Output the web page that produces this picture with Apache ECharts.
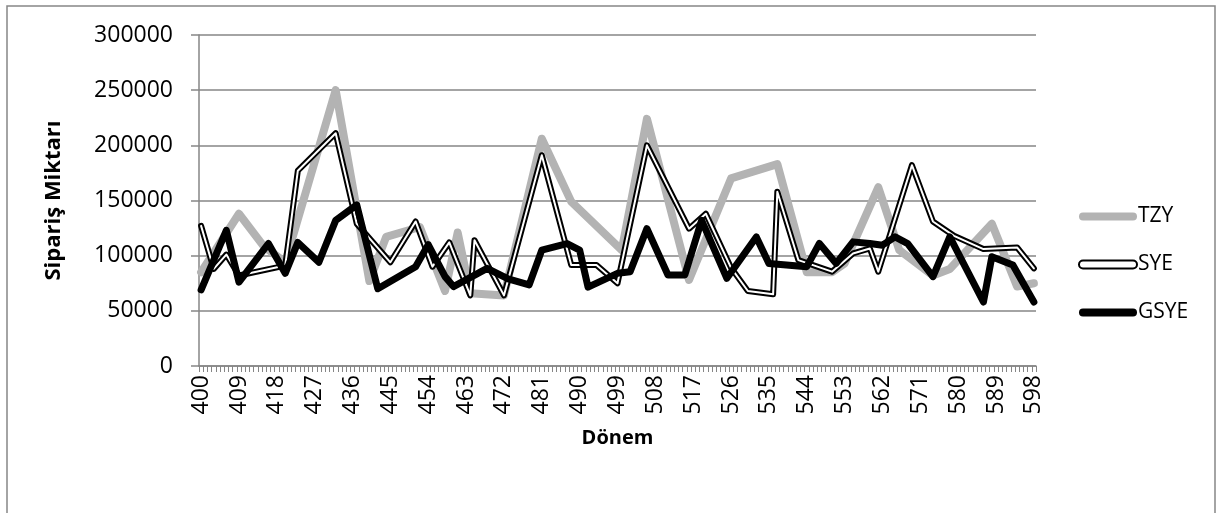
<!DOCTYPE html>
<html>
<head>
<meta charset="utf-8">
<script src="https://cdn.jsdelivr.net/npm/echarts@6/dist/echarts.min.js"></script>
<style>
  html, body { margin: 0; padding: 0; background: #ffffff; }
  #chart { width: 1219px; height: 513px; }
</style>
</head>
<body>
<div id="chart"></div>
<script>
// Periods shown on the category axis (one category per period)
const firstPeriod = 400;
const lastPeriod = 598;
const periods = [];
for (let p = firstPeriod; p <= lastPeriod; p++) periods.push(String(p));

// TZY series: turning points (period, order quantity)
const tzyPeriods = [400, 409, 415, 420, 432, 440, 444, 452, 458, 461, 464, 472, 481, 488, 500, 506, 516, 526, 537, 544, 550, 553, 561, 566, 574, 578, 588, 594, 598];
const tzyValues  = [85000, 138000, 108000, 94000, 250000, 77000, 117000, 126000, 68000, 121000, 66000, 64000, 206000, 149000, 105000, 224000, 78000, 170000, 183000, 85000, 85000, 93000, 162000, 105000, 82000, 88000, 129000, 72000, 75000];

// SYE series
const syePeriods = [400, 403, 406, 409, 420, 423, 432, 437, 445, 451, 455, 459, 464, 465, 472, 481, 488, 494, 499, 506, 516, 520, 526, 530, 536, 537, 542, 550, 555, 559, 561, 569, 574, 579, 586, 594, 598];
const syeValues  = [127000, 88000, 101000, 82000, 91000, 177000, 211000, 129000, 94000, 131000, 90000, 112000, 64000, 114000, 64000, 191000, 91500, 91500, 75000, 200000, 124500, 138000, 89000, 68000, 65000, 158000, 96000, 85500, 102000, 106500, 85500, 182000, 131000, 118000, 106000, 107500, 88500];

// GSYE series
const gsyePeriods = [400, 406, 409, 416, 420, 423, 428, 432, 437, 442, 451, 454, 458, 460, 468, 473, 478, 481, 487, 490, 492, 499, 502, 506, 511, 515, 519, 525, 532, 535, 544, 547, 551, 555, 559, 562, 565, 568, 574, 578, 586, 588, 593, 598];
const gsyeValues  = [69000, 123000, 76000, 111000, 84000, 112000, 94000, 132000, 146000, 70000, 90000, 110000, 81000, 72000, 88500, 79000, 73500, 105000, 111000, 105000, 71500, 84000, 85500, 124500, 82500, 82500, 132000, 79500, 117000, 93000, 90000, 111000, 93000, 112500, 111000, 109500, 117000, 111000, 81000, 117000, 58000, 99000, 91500, 58000];

// Y axis scale
const yMin = 0;
const yMax = 300000;
const yStep = 50000;

function pairs(ps, vs) {
  return ps.map((p, i) => [String(p), vs[i]]);
}

const FONT = '"Open Sans", "Noto Sans", sans-serif';
const AXIS_GRAY = '#868686';
const CAPSULE = 'path://M4,0L54,0A4,4,0,0,1,54,8L4,8A4,4,0,0,1,4,0Z';

const chart = echarts.init(document.getElementById('chart'), null, { renderer: 'canvas' });

chart.setOption({
  animation: false,
  backgroundColor: '#ffffff',
  graphic: [{
    type: 'rect',
    silent: true,
    shape: { x: 7, y: 6, width: 1208, height: 530 },
    style: { fill: 'none', stroke: AXIS_GRAY, lineWidth: 1.5 }
  }],
  grid: {
    left: 199, right: 183, top: 35, bottom: 147,
    containLabel: false,
    outerBoundsMode: 'none'
  },
  legend: {
    orient: 'vertical',
    left: 1073,
    top: 201,
    itemWidth: 58,
    itemHeight: 8,
    itemGap: 27,
    selectedMode: false,
    textStyle: { fontFamily: FONT, fontSize: 21, color: '#000', lineHeight: 20, padding: [0, 0, 0, -4] },
    data: [
      { name: 'TZY', icon: CAPSULE, itemStyle: { color: '#b3b3b3', borderWidth: 0 } },
      { name: 'SYE', icon: CAPSULE, itemStyle: { color: '#ffffff', borderColor: '#000000', borderWidth: 2 } },
      { name: 'GSYE', icon: CAPSULE, itemStyle: { color: '#000000', borderWidth: 0 } }
    ]
  },
  xAxis: {
    type: 'category',
    data: periods,
    boundaryGap: true,
    name: 'Dönem',
    nameLocation: 'middle',
    nameGap: 62,
    nameTextStyle: { fontFamily: FONT, fontSize: 20, fontWeight: 'bold', color: '#000' },
    axisLine: { show: true, lineStyle: { color: AXIS_GRAY, width: 1.5 } },
    axisTick: { show: true, interval: 0, length: 6, lineStyle: { color: AXIS_GRAY, width: 1 } },
    axisLabel: {
      interval: 8,
      rotate: 90,
      margin: 9,
      fontFamily: FONT,
      fontSize: 23,
      color: '#000'
    },
    splitLine: { show: false }
  },
  yAxis: {
    type: 'value',
    min: yMin,
    max: yMax,
    interval: yStep,
    name: 'Sipariş Miktarı',
    nameLocation: 'middle',
    nameRotate: 90,
    nameGap: 134,
    nameTextStyle: { fontFamily: FONT, fontSize: 22, fontWeight: 'bold', color: '#000' },
    axisLine: { show: true, lineStyle: { color: AXIS_GRAY, width: 1.5 } },
    axisTick: { show: true, length: 8, lineStyle: { color: AXIS_GRAY, width: 1.5 } },
    axisLabel: {
      margin: 26,
      fontFamily: FONT,
      fontSize: 23,
      color: '#000',
      formatter: (v) => String(v)
    },
    splitLine: { show: true, lineStyle: { color: AXIS_GRAY, width: 1.5 } }
  },
  series: [
    {
      name: 'TZY',
      type: 'line',
      data: pairs(tzyPeriods, tzyValues),
      symbol: 'none',
      itemStyle: { color: '#b3b3b3' },
      lineStyle: { color: '#b3b3b3', width: 8, join: 'round', cap: 'round' }
    },
    {
      // SYE outer stroke
      name: 'SYE',
      type: 'line',
      data: pairs(syePeriods, syeValues),
      symbol: 'none',
      itemStyle: { color: '#000000' },
      lineStyle: { color: '#000000', width: 6, join: 'round', cap: 'round' }
    },
    {
      // SYE inner white core (double line look)
      name: 'SYE',
      type: 'line',
      data: pairs(syePeriods, syeValues),
      symbol: 'none',
      itemStyle: { color: '#ffffff' },
      lineStyle: { color: '#ffffff', width: 2, join: 'round', cap: 'round' }
    },
    {
      name: 'GSYE',
      type: 'line',
      data: pairs(gsyePeriods, gsyeValues),
      symbol: 'none',
      itemStyle: { color: '#000000' },
      lineStyle: { color: '#000000', width: 7, join: 'round', cap: 'round' }
    }
  ]
});
</script>
</body>
</html>
